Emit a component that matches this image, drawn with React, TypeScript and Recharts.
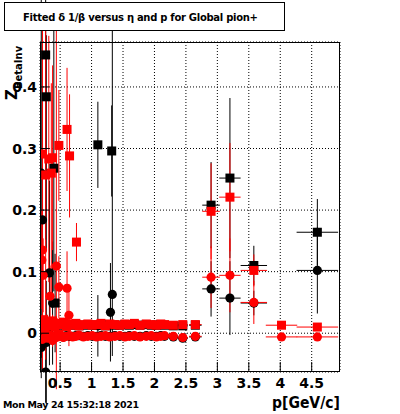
import React from "react";
import { ScatterChart, Scatter, XAxis, YAxis, CartesianGrid, ErrorBar } from "recharts";

type Err = number | [number, number];

const W = 400;
const H = 414;
const LEFT = 40;
const TOP = 42;
const RIGHT = 340;
const BOTTOM = 372;
const XMIN = 0.18;
const XMAX = 4.95;
const YMIN = -0.063;
const YMAX = 0.473;

const FONT = "'DejaVu Sans', sans-serif";

const xMajor = [0.5, 1, 1.5, 2, 2.5, 3, 3.5, 4, 4.5];
const xMinor = Array.from({ length: 48 }, (_, i) => +(0.2 + i * 0.1).toFixed(1));
const yMajor = [0, 0.1, 0.2, 0.3, 0.4];
const yMinor = Array.from({ length: 27 }, (_, i) => +(-0.06 + i * 0.02).toFixed(2));

// momentum bins of the dense band near zero
const bandP = [0.22, 0.26, 0.3, 0.34, 0.38, 0.42, 0.46, 0.5, 0.55, 0.6, 0.65, 0.7, 0.75, 0.8, 0.87, 0.94, 1.01, 1.08, 1.15, 1.22, 1.29, 1.37, 1.45, 1.53, 1.6, 1.68, 1.77, 1.87, 1.95, 2.03, 2.1, 2.16, 2.3, 2.45, 2.65];
const bandEx = [0.02, 0.02, 0.02, 0.02, 0.02, 0.02, 0.02, 0.025, 0.025, 0.025, 0.025, 0.025, 0.025, 0.03, 0.035, 0.035, 0.035, 0.035, 0.035, 0.035, 0.04, 0.04, 0.04, 0.04, 0.04, 0.045, 0.045, 0.045, 0.04, 0.04, 0.04, 0.05, 0.07, 0.08, 0.1];
const bandEy = [0.02, 0.015, 0.012, 0.01, 0.01, 0.008, 0.008, 0.006, 0.006, 0.005, 0.005, 0.004, 0.004, 0.004, 0.004, 0.004, 0.004, 0.004, 0.004, 0.004, 0.004, 0.004, 0.004, 0.004, 0.004, 0.004, 0.004, 0.004, 0.004, 0.004, 0.004, 0.004, 0.004, 0.004, 0.004];
const redSqBand = [0.022, 0.008, 0.018, 0.012, 0.02, 0.01, 0.016, 0.014, 0.018, 0.011, 0.015, 0.013, 0.016, 0.012, 0.014, 0.015, 0.013, 0.014, 0.016, 0.012, 0.015, 0.014, 0.013, 0.015, 0.014, 0.016, 0.013, 0.015, 0.014, 0.013, 0.015, 0.014, 0.013, 0.014, 0.014];
const redCiBand = [-0.01, 0.002, -0.008, -0.003, -0.012, -0.004, -0.006, -0.002, -0.007, -0.005, -0.004, -0.006, -0.005, -0.003, -0.006, -0.005, -0.004, -0.006, -0.005, -0.004, -0.006, -0.005, -0.004, -0.006, -0.005, -0.004, -0.006, -0.005, -0.004, -0.006, -0.005, -0.004, -0.005, -0.007, -0.005];
const blkSqBand = [0.018, 0.01, 0.015, 0.012, 0.016, 0.011, 0.014, 0.013, 0.015, 0.012, 0.014, 0.013, 0.014, 0.012, 0.013, 0.014, 0.013, 0.013, 0.014, 0.012, 0.014, 0.013, 0.013, 0.014, 0.013, 0.014, 0.013, 0.014, 0.013, 0.013, 0.014, 0.013, 0.012, 0.012, 0.013];
const blkCiBand = [-0.008, -0.002, -0.006, -0.004, -0.009, -0.005, -0.005, -0.003, -0.006, -0.004, -0.005, -0.005, -0.004, -0.004, -0.005, -0.004, -0.005, -0.005, -0.004, -0.005, -0.005, -0.004, -0.005, -0.005, -0.004, -0.005, -0.005, -0.004, -0.005, -0.005, -0.004, -0.005, -0.006, -0.008, -0.006];

// points off the band
const blkSqP = [0.27, 0.28, 0.4, 0.42, 1.1, 1.32, 2.9, 3.2, 3.58, 4.59];
const blkSqEx = [0.02, 0.02, 0.02, 0.02, 0.05, 0.05, 0.14, 0.17, 0.21, 0.33];
const blkSqV = [0.452, 0.384, 0.268, 0.049, 0.306, 0.296, 0.208, 0.252, 0.11, 0.164];
const blkSqEy: Err[] = [[0.3, 0.1], [0.25, 0.1], [0.2, 0.25], 0.08, 0.07, 0.074, 0.07, 0.13, 0.032, 0.054];

const blkCiP = [0.2, 0.22, 0.33, 0.38, 0.2, 0.28, 0.27, 1.1, 1.3, 1.33, 2.9, 3.2, 3.58, 4.59];
const blkCiEx = [0.02, 0.02, 0.02, 0.02, 0.02, 0.02, 0.02, 0.05, 0.05, 0.05, 0.14, 0.17, 0.21, 0.33];
const blkCiV = [0.26, 0.184, 0.098, 0.049, -0.023, -0.015, -0.063, 0.012, 0.034, 0.063, 0.072, 0.057, 0.049, 0.102];
const blkCiEy: Err[] = [0.3, 0.2, 0.15, 0.1, 0.05, 0.1, 0.05, 0.05, 0.08, [0.1, 0.45], 0.045, 0.06, 0.02, 0.07];

const redSqP = [0.22, 0.27, 0.32, 0.36, 0.38, 0.48, 0.61, 0.65, 0.76, 2.9, 3.2, 3.58, 4.02, 4.59];
const redSqEx = [0.02, 0.02, 0.02, 0.02, 0.02, 0.02, 0.02, 0.02, 0.03, 0.14, 0.17, 0.21, 0.25, 0.33];
const redSqV = [0.291, 0.257, 0.283, 0.26, 0.285, 0.305, 0.331, 0.288, 0.148, 0.198, 0.221, 0.102, 0.013, 0.01];
const redSqEy: Err[] = [[0.35, 0.2], [0.3, 0.25], 0.2, [0.2, 0.146], 0.15, 0.09, 0.1, 0.1, 0.031, 0.078, 0.088, 0.026, 0.003, 0.003];

const redCiP = [0.22, 0.21, 0.23, 0.34, 0.44, 0.48, 0.61, 0.64, 2.9, 3.2, 3.58, 4.02, 4.59];
const redCiEx = [0.02, 0.02, 0.02, 0.02, 0.02, 0.02, 0.02, 0.02, 0.14, 0.17, 0.21, 0.25, 0.33];
const redCiV = [0.135, 0.119, 0.094, 0.06, 0.109, 0.075, 0.073, 0.029, 0.091, 0.094, 0.05, -0.006, -0.006];
const redCiEy: Err[] = [0.1, 0.08, 0.06, 0.05, [0.2, 0.4], 0.05, 0.06, 0.05, 0.05, 0.06, 0.035, 0.003, 0.003];

const rows = (p: number[], ex: number[], v: number[], ey: Err[]) =>
  p.map((x, i) => ({ p: x, ex: ex[i], v: v[i], ey: ey[i] }));

const blackSquares = [...rows(bandP, bandEx, blkSqBand, bandEy), ...rows(blkSqP, blkSqEx, blkSqV, blkSqEy)];
const blackCircles = [...rows(bandP, bandEx, blkCiBand, bandEy), ...rows(blkCiP, blkCiEx, blkCiV, blkCiEy)];
const redSquares = [...rows(bandP, bandEx, redSqBand, bandEy), ...rows(redSqP, redSqEx, redSqV, redSqEy)];
const redCircles = [...rows(bandP, bandEx, redCiBand, bandEy), ...rows(redCiP, redCiEx, redCiV, redCiEy)];

const square = (color: string) => (props: any) =>
  <rect x={props.cx - 4.5} y={props.cy - 4.5} width={9} height={9} fill={color} />;
const circle = (color: string) => (props: any) =>
  <circle cx={props.cx} cy={props.cy} r={4.6} fill={color} />;

const XMajorTick = (props: any) => {
  const { x, payload } = props;
  return (
    <g>
      <line x1={x} x2={x} y1={BOTTOM} y2={BOTTOM - 10} stroke="#000" />
      <text x={x} y={388} textAnchor="middle" fontFamily={FONT} fontWeight="bold" fontSize={14} fill="#000">
        {payload.value}
      </text>
    </g>
  );
};
const XMinorTick = (props: any) => (
  <line x1={props.x} x2={props.x} y1={BOTTOM} y2={BOTTOM - 5} stroke="#000" />
);
const YMajorTick = (props: any) => {
  const { y, payload } = props;
  return (
    <g>
      <line x1={LEFT} x2={LEFT + 9} y1={y} y2={y} stroke="#000" />
      <text x={37} y={y + 5} textAnchor="end" fontFamily={FONT} fontWeight="bold" fontSize={14} fill="#000">
        {payload.value}
      </text>
    </g>
  );
};
const YMinorTick = (props: any) => (
  <line x1={LEFT} x2={LEFT + 5} y1={props.y} y2={props.y} stroke="#000" />
);

const series = [
  { data: blackSquares, color: "#000", shape: square("#000") },
  { data: blackCircles, color: "#000", shape: circle("#000") },
  { data: redSquares, color: "#ff0000", shape: square("#ff0000") },
  { data: redCircles, color: "#ff0000", shape: circle("#ff0000") },
];

export default function App() {
  return (
    <div style={{ position: "absolute", left: 0, top: 0, width: W, height: H, background: "#fff" }}>
      <ScatterChart width={W} height={H} margin={{ top: TOP, right: W - RIGHT, bottom: 0, left: 0 }}>
        <CartesianGrid stroke="#000" strokeDasharray="1 2" />
        <XAxis
          type="number"
          dataKey="p"
          domain={[XMIN, XMAX]}
          allowDataOverflow
          ticks={xMajor}
          interval={0}
          height={H - BOTTOM}
          axisLine={false}
          tickLine={false}
          tick={<XMajorTick />}
        />
        <XAxis
          xAxisId="minor"
          type="number"
          domain={[XMIN, XMAX]}
          allowDataOverflow
          ticks={xMinor}
          interval={0}
          height={0}
          axisLine={false}
          tickLine={false}
          tick={<XMinorTick />}
        />
        <YAxis
          type="number"
          dataKey="v"
          domain={[YMIN, YMAX]}
          allowDataOverflow
          ticks={yMajor}
          interval={0}
          width={LEFT}
          axisLine={false}
          tickLine={false}
          tick={<YMajorTick />}
        />
        <YAxis
          yAxisId="minor"
          type="number"
          domain={[YMIN, YMAX]}
          allowDataOverflow
          ticks={yMinor}
          interval={0}
          width={0}
          axisLine={false}
          tickLine={false}
          tick={<YMinorTick />}
        />
        {series.map((s, i) => (
          <Scatter key={i} data={s.data} fill={s.color} shape={s.shape} isAnimationActive={false}>
            <ErrorBar dataKey="ex" direction="x" width={0} stroke={s.color} strokeWidth={1} />
            <ErrorBar dataKey="ey" direction="y" width={0} stroke={s.color} strokeWidth={1} />
          </Scatter>
        ))}
      </ScatterChart>
      <svg width={W} height={H} style={{ position: "absolute", left: 0, top: 0, pointerEvents: "none" }}>
        <rect x={LEFT + 0.5} y={TOP + 0.5} width={RIGHT - LEFT - 1} height={BOTTOM - TOP - 1} fill="none" stroke="#000" />
        <rect x={4.5} y={2.5} width={280} height={28} fill="#fff" stroke="#000" />
        <text x={23} y={21} fontFamily={FONT} fontWeight="bold" fontSize={10} textLength={235} lengthAdjust="spacing">
          Fitted δ 1/β versus η and p for Global pion+
        </text>
        <text transform="translate(17, 100) rotate(-90)" fontFamily={FONT} fontWeight="bold">
          <tspan fontSize={15}>Z</tspan>
          <tspan fontSize={10} dy={5}>BetaInv</tspan>
        </text>
        <text x={340} y={408} textAnchor="end" fontFamily={FONT} fontWeight="bold" fontSize={15} textLength={68} lengthAdjust="spacingAndGlyphs">
          p[GeV/c]
        </text>
        <text x={3} y={408} fontFamily={FONT} fontWeight="bold" fontSize={9.5} textLength={136} lengthAdjust="spacing">
          Mon May 24 15:32:18 2021
        </text>
      </svg>
    </div>
  );
}
